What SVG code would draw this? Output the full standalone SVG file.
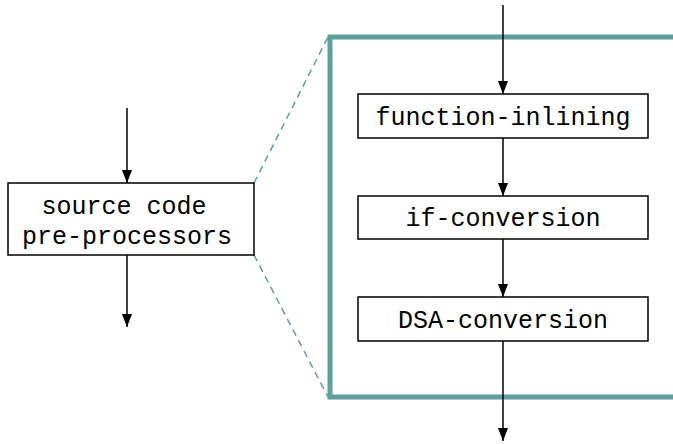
<svg xmlns="http://www.w3.org/2000/svg" width="673" height="444" viewBox="0 0 673 444">
<defs>
<marker id="arr" markerWidth="13" markerHeight="10" refX="13" refY="5" orient="auto" markerUnits="userSpaceOnUse" viewBox="0 0 13 10">
<path d="M0,0 L13,5 L0,10 Z" fill="#000"/>
</marker>
</defs>
<style>
.box{fill:#fff;stroke:#000;stroke-width:1.5}
.lbl{font-family:"Liberation Mono","Courier New",monospace;font-size:25px;fill:#000;text-anchor:middle}
.edge{stroke:#000;stroke-width:1.5;fill:none;marker-end:url(#arr)}
.frame{fill:none;stroke:#5f9e9e;stroke-width:5}
.dash{stroke:#5f9e9e;stroke-width:1.5;stroke-dasharray:7,5;fill:none}
</style>
<rect width="673" height="444" fill="#fff"/>
<g id="zoom-frame">
<polyline class="frame" points="675,37 330,37 330,397 675,397"/>
<line class="dash" x1="254" y1="183" x2="328" y2="37"/>
<line class="dash" x1="254" y1="255" x2="328" y2="397"/>
</g>
<g id="connectors">
<line class="edge" x1="127" y1="108" x2="127" y2="183"/>
<line class="edge" x1="127" y1="255" x2="127" y2="327"/>
<line class="edge" x1="503" y1="5" x2="503" y2="94"/>
<line class="edge" x1="503" y1="138" x2="503" y2="196"/>
<line class="edge" x1="503" y1="239" x2="503" y2="297"/>
<line class="edge" x1="503" y1="341" x2="503" y2="441"/>
</g>
<g id="source-code-pre-processors">
<rect class="box" x="8" y="183" width="246" height="72"/>
<text class="lbl" x="124" y="214">source code</text>
<text class="lbl" x="127" y="244">pre-processors</text>
</g>
<g id="function-inlining">
<rect class="box" x="358" y="94" width="290" height="44"/>
<text class="lbl" x="503" y="125">function-inlining</text>
</g>
<g id="if-conversion">
<rect class="box" x="358" y="196" width="290" height="43"/>
<text class="lbl" x="503" y="226">if-conversion</text>
</g>
<g id="dsa-conversion">
<rect class="box" x="358" y="297" width="290" height="44"/>
<text class="lbl" x="503" y="328">DSA-conversion</text>
</g>
</svg>
